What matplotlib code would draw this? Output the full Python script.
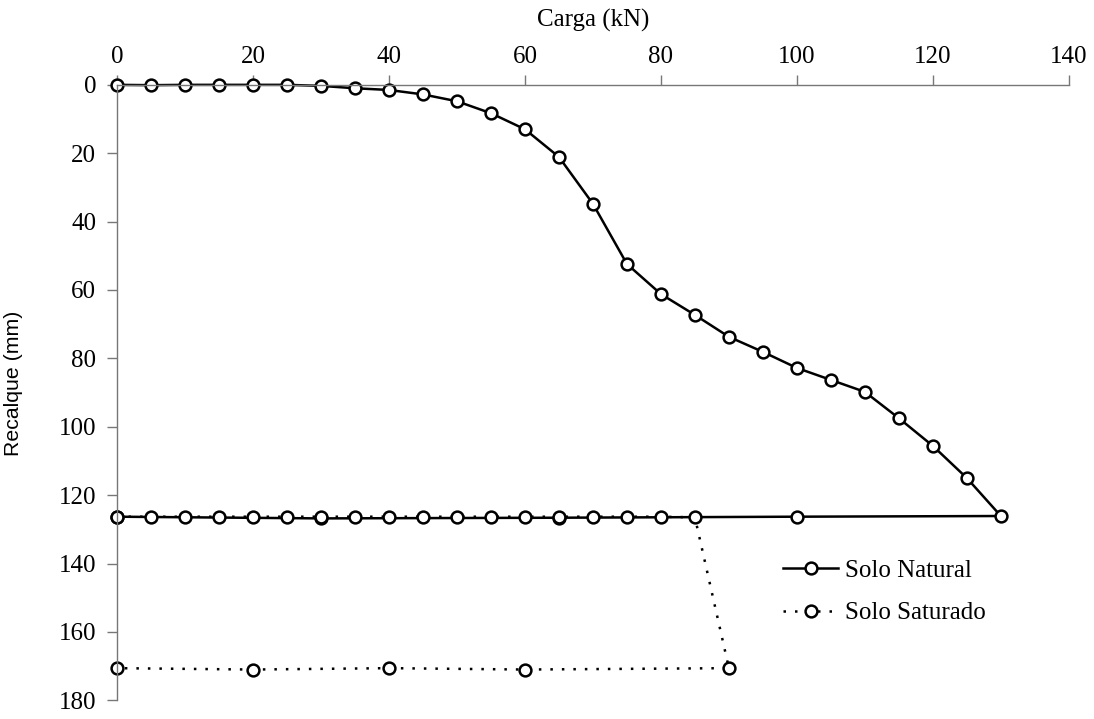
import numpy as np
import matplotlib
matplotlib.use('Agg')
import matplotlib.pyplot as plt

# Solo Natural: loading branch then unloading along the plateau
carga_nat = [0, 5, 10, 15, 20, 25, 30, 35, 40, 45, 50, 55, 60, 65, 70, 75, 80, 85,
             90, 95, 100, 105, 110, 115, 120, 125, 130, 100, 65, 30, 0]
recalque_nat = [0, 0.1, 0, 0, 0, 0, 0.3, 1.0, 1.5, 2.8, 4.8, 8.3, 13.0, 21.1, 34.8,
                52.4, 61.2, 67.3, 73.7, 78.1, 82.8, 86.3, 89.8, 97.5, 105.6, 115.0,
                126.1, 126.3, 126.6, 126.8, 126.3]

# Solo Saturado
carga_sat = [0, 5, 10, 15, 20, 25, 30, 35, 40, 45, 50, 55, 60, 65, 70, 75, 80, 85,
             90, 60, 40, 20, 0]
recalque_sat = [126.3, 126.3, 126.3, 126.3, 126.3, 126.3, 126.3, 126.3, 126.3, 126.3,
                126.3, 126.3, 126.3, 126.3, 126.3, 126.3, 126.3, 126.5,
                170.6, 171.0, 170.6, 171.0, 170.6]

xticks = np.arange(0, 141, 20)
yticks = np.arange(0, 181, 20)

serif = {'family': 'Liberation Serif', 'size': 18}

fig = plt.figure(figsize=(10.94, 7.19), dpi=100)
ax = fig.add_axes([0.107, 0.026, 0.870, 0.856])

mk = dict(marker='o', markersize=8.5, markerfacecolor='white',
          markeredgecolor='black', markeredgewidth=1.8, color='black', clip_on=False)

ax.plot(carga_nat, recalque_nat, linestyle='-', linewidth=1.8, label='Solo Natural', **mk)
ax.plot(carga_sat, recalque_sat, linestyle=(0, (1, 3.6)), linewidth=1.8,
        label='Solo Saturado', **mk)

ax.set_xlim(0, 140)
ax.set_ylim(180, 0)
ax.set_xticks(xticks)
ax.set_yticks(yticks)

ax.xaxis.tick_top()
ax.xaxis.set_label_position('top')
ax.spines['right'].set_visible(False)
ax.spines['bottom'].set_visible(False)
for s in ['top', 'left']:
    ax.spines[s].set_color('#777777')
    ax.spines[s].set_linewidth(1.0)
ax.tick_params(axis='both', direction='out', length=7, width=1.0, color='#777777')
ax.tick_params(axis='x', pad=5)
ax.tick_params(axis='y', pad=8)
for lab in ax.get_xticklabels() + ax.get_yticklabels():
    lab.set_fontfamily('Liberation Serif')
    lab.set_fontsize(18)

ax.set_xlabel('Carga (kN)', fontdict=serif, labelpad=14)
ax.set_ylabel('Recalque (mm)', family='Liberation Sans', fontsize=15.3)
ax.yaxis.set_label_coords(-0.099, 0.515)

ax.legend(loc='upper left', bbox_to_anchor=(0.7, 0.229), frameon=False,
          prop={'family': 'Liberation Serif', 'size': 18}, handlelength=2.2,
          handletextpad=0.25, labelspacing=0.8, borderpad=0, borderaxespad=0)

fig.savefig('out.png', dpi=100)
